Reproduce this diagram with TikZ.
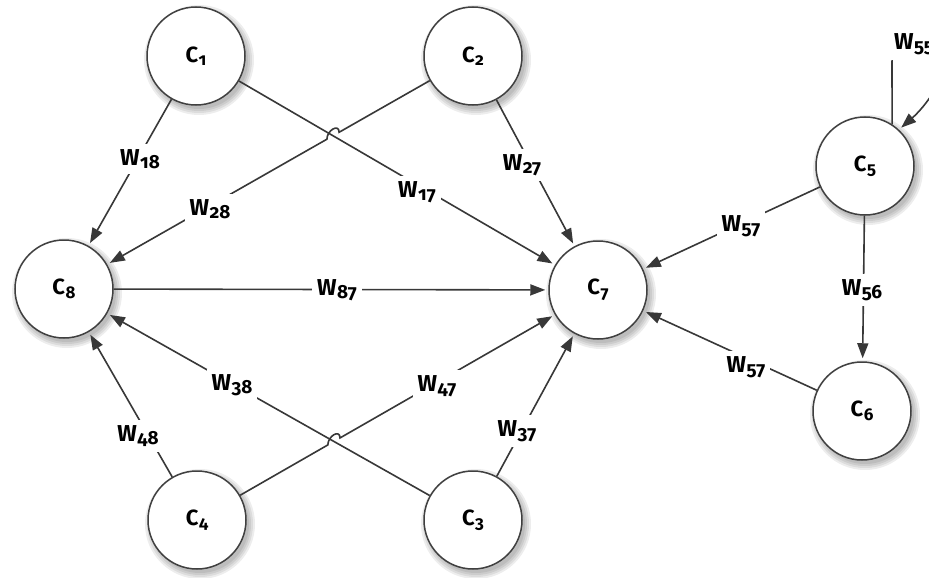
\documentclass[tikz,border=0pt]{standalone}
\usepackage{fontspec}
\setmainfont{Fira Sans}
\newfontfamily\subfont{Fira Sans}[Numbers=OldStyle]
\usetikzlibrary{arrows.meta,calc}

% concept names and weight names with subscripted indices
\newcommand{\cn}[1]{C\kern0.5pt\raisebox{-3.5pt}{\fontsize{17}{17}\subfont #1}}
\newcommand{\wn}[1]{W\kern0.5pt\raisebox{-3.5pt}{\fontsize{19}{19}\subfont #1}}

\pgfdeclarelayer{background}
\pgfsetlayers{background,main}

\begin{document}
\begin{tikzpicture}[x=1pt,y=-1pt,
  cell/.style={circle, draw=black!75, line width=1.5pt, fill=white,
    minimum size=98pt, inner sep=0pt,
    font=\bfseries\fontsize{22}{22}\selectfont},
  edge/.style={draw=black!78, line width=1.6pt,
    -{Triangle[length=15pt,width=11pt]}, shorten >=3pt},
  wlabel/.style={fill=white, inner sep=5pt,
    font=\bfseries\fontsize{23}{23}\selectfont}]

\useasboundingbox (0,0) rectangle (929,578);

% concepts
\node[cell] (c1) at (196,56)  {\cn{1}};
\node[cell] (c2) at (473,56)  {\cn{2}};
\node[cell] (c8) at (64,289)  {\cn{8}};
\node[cell] (c7) at (598,290) {\cn{7}};
\node[cell] (c4) at (197,520) {\cn{4}};
\node[cell] (c3) at (473,520) {\cn{3}};
\node[cell] (c5) at (865,166) {\cn{5}};
\node[cell] (c6) at (862,411) {\cn{6}};

% paper and soft shadows under the concepts
\begin{pgfonlayer}{background}
  \fill[white] (0,0) rectangle (929,578);
  \foreach \n in {c1,c2,c3,c4,c5,c6,c7,c8}
    \foreach \r in {49,51,53,55}
      \fill[black, opacity=0.07] ($(\n.center)+(3,4)$) circle (\r pt);
\end{pgfonlayer}

% crossing points where one line hops over the other
\coordinate (j1) at (intersection of c1.center--c7.center and c2.center--c8.center);
\coordinate (j2) at (intersection of c3.center--c8.center and c4.center--c7.center);

% causal links
\draw[edge] (c1) -- (c8);
\draw[edge] (c1) -- (c7);
\draw[edge] (c2) -- ($(j1)!7pt!(c2.center)$)
  .. controls +(0,-9) and +(0,-9) .. ($(j1)!7pt!(c8.center)$) -- (c8);
\draw[edge] (c2) -- (c7);
\draw[edge] (c8) -- (c7);
\draw[edge] (c3) -- (c8);
\draw[edge] (c4) -- ($(j2)!7pt!(c4.center)$)
  .. controls +(0,-9) and +(0,-9) .. ($(j2)!7pt!(c7.center)$) -- (c7);
\draw[edge] (c4) -- (c8);
\draw[edge] (c3) -- (c7);
\draw[edge] (c5) -- (c7);
\draw[edge] (c6) -- (c7);
\draw[edge] (c5) -- (c6);
\draw[edge] (c5.57) -- (892,62) .. controls (892,46) and (905,42) .. (935,42)
  .. controls (965,44) and (935,98) .. (c5.47);

% weights
\node[wlabel] (w18) at (140,159) {\wn{18}};
\node[wlabel] (w28) at (210,209) {\wn{28}};
\node[wlabel] (w17) at (417,192) {\wn{17}};
\node[wlabel] (w27) at (522,165) {\wn{27}};
\node[wlabel] (w87) at (337,290) {\wn{87}};
\node[wlabel] (w38) at (232,385) {\wn{38}};
\node[wlabel] (w47) at (437,386) {\wn{47}};
\node[wlabel] (w48) at (138,436) {\wn{48}};
\node[wlabel] (w37) at (517,431) {\wn{37}};
\node[wlabel] (w57a) at (741,226) {\wn{57}};
\node[wlabel] (w57b) at (746,367) {\wn{57}};
\node[wlabel] (w56) at (862,290) {\wn{56}};
\node[wlabel] (w55) at (914,44) {\wn{55}};
\end{tikzpicture}
\end{document}
